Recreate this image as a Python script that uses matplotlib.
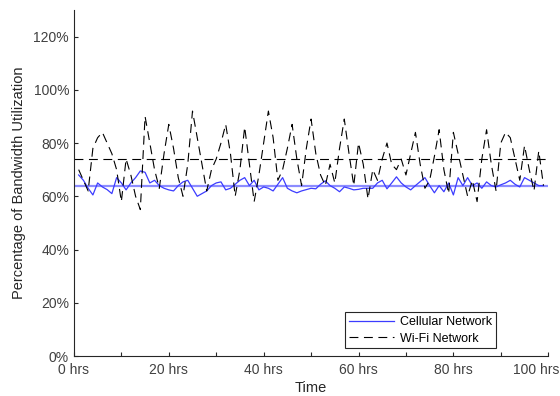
import matplotlib
matplotlib.use("Agg")
import matplotlib.pyplot as plt
import matplotlib.transforms as mtransforms
import numpy as np

plt.rcParams['font.family'] = ['Liberation Sans', 'DejaVu Sans']

# hourly readings
hours = list(range(1, 100))

cellular = [68, 66, 63, 60.5, 65, 63.5, 62.5, 61, 67, 65,
            62.4, 65, 67, 69.5, 69, 65, 66, 64, 63, 62.4,
            62, 64, 65.4, 66, 63, 60, 61, 62, 64, 65,
            65.4, 62.4, 63, 64.5, 66, 67, 64, 66, 62.4, 63.5,
            63, 62, 64.5, 67, 63, 62, 61.3, 62, 62.5, 63,
            62.8, 64.5, 65.8, 64, 63, 61.7, 63.5, 63, 62.4, 62.6,
            63, 63, 63, 65, 66, 62.8, 65, 67.3, 65, 63.5,
            62.4, 64, 65.5, 67, 64, 61.3, 64, 61.7, 65, 60.5,
            67, 64, 67, 64, 65, 63, 65.4, 64, 63.5, 64.3,
            65, 66, 64.5, 63.5, 67, 66, 65, 64, 64]

wifi = [70, 66, 62, 78, 82, 84, 80, 76, 70, 58,
        74, 68, 60, 55, 90, 80, 70, 63, 76, 87,
        78, 67, 60, 72, 92, 82, 72, 62, 70, 74,
        80, 87, 76, 60, 70, 86, 72, 58, 68, 80,
        92, 82, 66, 70, 78, 87, 74, 64, 78, 89,
        76, 68, 64, 72, 65, 78, 89, 76, 64, 80,
        72, 59, 70, 66, 74, 80, 72, 70, 74, 68,
        76, 84, 72, 63, 66, 75, 85, 70, 61, 84,
        76, 68, 60, 66, 58, 74, 85, 72, 62, 80,
        84, 82, 74, 66, 79, 70, 62, 77, 64]

cell_mean = 64
wifi_mean = 74

fig = plt.figure(figsize=(5.6, 3.96), dpi=100)
ax = fig.add_axes([0.132, 0.101, 0.847, 0.874])

ax.plot(hours, cellular, color='#3c3cff', lw=0.9, label='Cellular Network')
ax.plot(hours, wifi, color='black', lw=0.8, dashes=(8, 5), label='Wi-Fi Network')
ax.axhline(cell_mean, color='#8c8cff', lw=1.6, zorder=1)
ax.axhline(wifi_mean, color='black', lw=0.8, dashes=(8, 5), zorder=1)

ax.set_xlim(0, 100)
ax.set_ylim(0, 130)
ax.set_xticks(np.arange(0, 101, 10))
ax.set_xticklabels([f'{t} hrs' if t % 20 == 0 else '' for t in range(0, 101, 10)])
ax.set_yticks(np.arange(0, 121, 20))
ax.set_yticklabels([f'{t}%' for t in range(0, 121, 20)])

ax.spines['top'].set_visible(False)
ax.spines['right'].set_visible(False)
for s in ['left', 'bottom']:
    ax.spines[s].set_color('#262626')
    ax.spines[s].set_linewidth(0.8)
ax.tick_params(direction='in', length=3, width=0.8, colors='#262626',
               labelsize=10, labelcolor='#404040')
ax.tick_params(axis='x', pad=5)

# keep the last x label inside the figure like the original
last = ax.get_xticklabels()[-1]
last.set_horizontalalignment('right')
last.set_transform(last.get_transform() +
                   mtransforms.ScaledTranslation(0.11, 0, fig.dpi_scale_trans))

ax.set_xlabel('Time', fontsize=10.5, color='#262626', labelpad=3)
ax.set_ylabel('Percentage of Bandwidth Utilization', fontsize=10.5,
              color='#262626', labelpad=5)

leg = ax.legend(loc='lower right', bbox_to_anchor=(0.903, 0.004), fontsize=9,
                fancybox=False, framealpha=1, edgecolor='#262626',
                handlelength=3.6, borderpad=0.3, labelspacing=0.35,
                handletextpad=0.5)
leg.get_frame().set_linewidth(0.8)

fig.savefig('out.png', dpi=100)
